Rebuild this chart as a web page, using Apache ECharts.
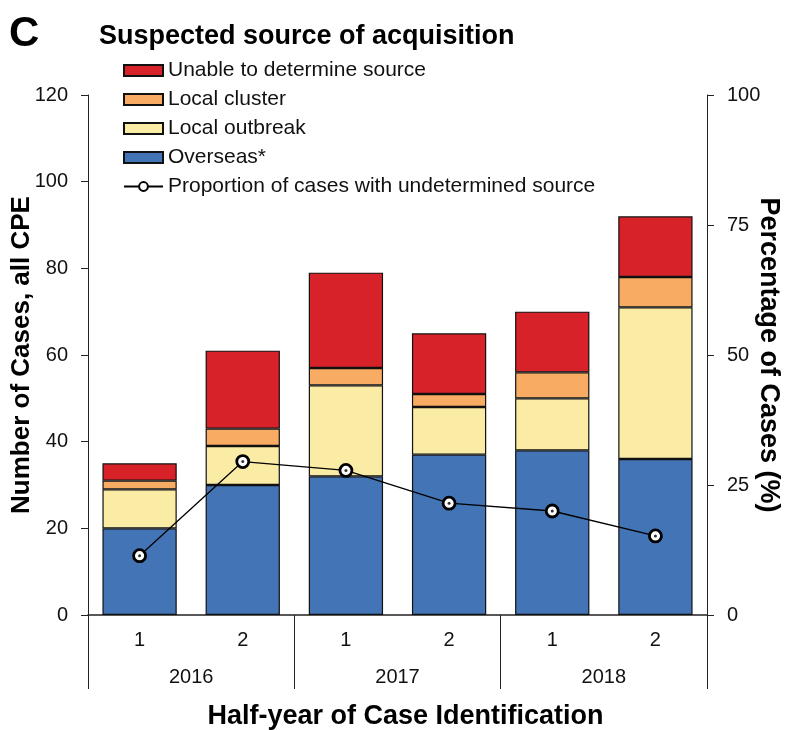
<!DOCTYPE html>
<html>
<head>
<meta charset="utf-8">
<script src="https://cdn.jsdelivr.net/npm/echarts@6/dist/echarts.min.js"></script>
<style>
  html, body { margin: 0; padding: 0; background: #fff; }
  #chart { width: 786px; height: 730px; }
</style>
</head>
<body>
<div id="chart"></div>
<script>
var halves = ['1', '2', '1', '2', '1', '2']
var years = ['2016', '2017', '2018']
var overseas = [20, 30, 32, 37, 38, 36]
var localOutbreak = [9, 9, 21, 11, 12, 35]
var localCluster = [2, 4, 4, 3, 6, 7]
var unableSource = [4, 18, 22, 14, 14, 14]
var propUndetermined = [11.4, 29.5, 27.8, 21.5, 20.0, 15.2]

var font = 'Liberation Sans'
var myChart = echarts.init(document.getElementById('chart'))

function barSeries(name, data, color) {
  return {
    name: name,
    type: 'bar',
    stack: 'cases',
    data: data,
    barWidth: '72%',
    itemStyle: { color: color, borderColor: '#111', borderWidth: 1.2 },
  }
}

var option = {
  animation: false,
  textStyle: { fontFamily: font },
  title: [
    { text: 'C', left: 9, top: 13, padding: 0, textStyle: { fontFamily: font, fontSize: 42, fontWeight: 'bold', color: '#000' } },
    { text: 'Suspected source of acquisition', left: 99, top: 23, padding: 0, textStyle: { fontFamily: font, fontSize: 27, fontWeight: 'bold', color: '#000' } },
  ],
  legend: {
    orient: 'vertical',
    left: 118,
    top: 55,
    itemWidth: 39,
    itemHeight: 11,
    itemGap: 8,
    textStyle: { fontFamily: font, fontSize: 21, lineHeight: 21, color: '#111' },
    data: [
      { name: 'Unable to determine source', icon: 'rect' },
      { name: 'Local cluster', icon: 'rect' },
      { name: 'Local outbreak', icon: 'rect' },
      { name: 'Overseas*', icon: 'rect' },
      'Proportion of cases with undetermined source',
    ],
  },
  grid: { left: 88, right: 79, top: 95, bottom: 115, outerBoundsMode: 'none' },
  xAxis: [
    {
      type: 'category',
      data: halves,
      axisLine: { lineStyle: { color: '#222', width: 1.5 } },
      axisTick: { show: false },
      axisLabel: { fontSize: 20, color: '#111', margin: 15 },
    },
    {
      type: 'category',
      data: years,
      position: 'bottom',
      axisLine: { show: false },
      axisTick: { show: true, length: 74, interval: 0, lineStyle: { color: '#222', width: 1 } },
      axisLabel: { fontSize: 20, color: '#111', margin: 52 },
      name: 'Half-year of Case Identification',
      nameLocation: 'middle',
      nameGap: 88,
      nameTextStyle: { fontSize: 27, fontWeight: 'bold', color: '#000', padding: [0, 0, 0, 16] },
    },
  ],
  yAxis: [
    {
      type: 'value',
      min: 0,
      max: 120,
      interval: 20,
      splitLine: { show: false },
      axisLine: { show: true, lineStyle: { color: '#222', width: 1 } },
      axisTick: { show: true, length: 7, lineStyle: { color: '#222' } },
      axisLabel: { fontSize: 20, color: '#111', margin: 20 },
      name: 'Number of Cases, all CPE',
      nameLocation: 'middle',
      nameGap: 53,
      nameMoveOverlap: false,
      nameTextStyle: { fontSize: 26, fontWeight: 'bold', color: '#000' },
    },
    {
      type: 'value',
      position: 'right',
      min: 0,
      max: 100,
      interval: 25,
      splitLine: { show: false },
      axisLine: { show: true, lineStyle: { color: '#222', width: 1 } },
      axisTick: { show: true, length: 7, lineStyle: { color: '#222' } },
      axisLabel: { fontSize: 20, color: '#111', margin: 20 },
      name: 'Percentage of Cases (%)',
      nameLocation: 'middle',
      nameRotate: -90,
      nameGap: 48,
      nameMoveOverlap: false,
      nameTextStyle: { fontSize: 27, fontWeight: 'bold', color: '#000' },
    },
  ],
  series: [
    barSeries('Overseas*', overseas, '#4374b5'),
    barSeries('Local outbreak', localOutbreak, '#fbeca5'),
    barSeries('Local cluster', localCluster, '#f8ab62'),
    barSeries('Unable to determine source', unableSource, '#d82229'),
    {
      name: 'Proportion of cases with undetermined source',
      type: 'line',
      yAxisIndex: 1,
      data: propUndetermined,
      symbol: 'circle',
      symbolSize: 12,
      lineStyle: { color: '#000', width: 1.3 },
      itemStyle: { color: '#fff', borderColor: '#000', borderWidth: 2.8 },
      z: 5,
    },
    {
      // centre dot of the ring markers
      type: 'scatter',
      yAxisIndex: 1,
      data: propUndetermined,
      symbolSize: 3,
      silent: true,
      itemStyle: { color: '#000' },
      z: 6,
    },
  ],
}

myChart.setOption(option)
</script>
</body>
</html>
